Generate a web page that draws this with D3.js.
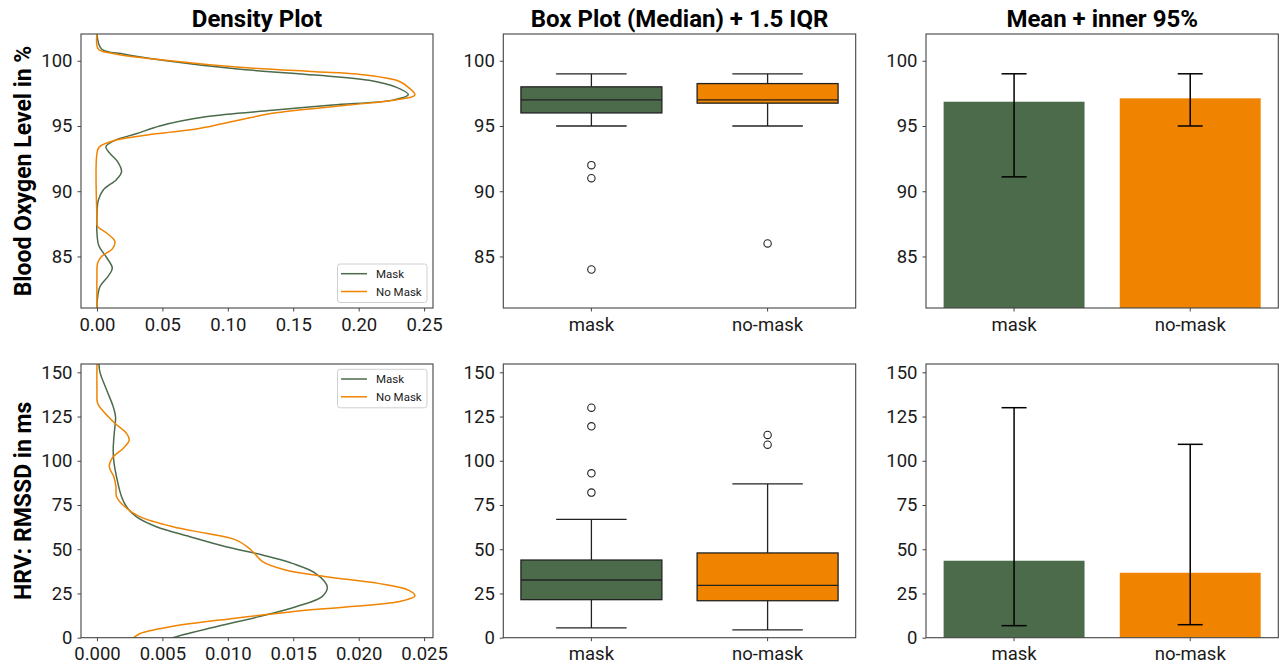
<!DOCTYPE html>
<html><head><meta charset="utf-8">
<script src="https://cdn.jsdelivr.net/npm/d3@7"></script>
<style>
body{margin:0;background:#fff;}
svg{display:block;font-family:Roboto,"DejaVu Sans",sans-serif;}
</style></head>
<body><svg id="c" width="1282" height="667"></svg>
<script>
// ---------- data ----------
const groups = ["mask", "no-mask"];
const seriesNames = ["Mask", "No Mask"];
const colors = ["#4b6b4b", "#f08300"];
const titles = ["Density Plot", "Box Plot (Median) + 1.5 IQR", "Mean + inner 95%"];
const rowLabels = ["Blood Oxygen Level in %", "HRV: RMSSD in ms"];

const o2Ticks = [85, 90, 95, 100];
const o2Domain = [81.05, 102.05];
const hrvTicks = [0, 25, 50, 75, 100, 125, 150];
const hrvDomain = [0, 154.7];
const o2DensTicks = [0, 0.05, 0.10, 0.15, 0.20, 0.25];
const o2DensDomain = [-0.0122, 0.2568];
const hrvDensTicks = [0, 0.005, 0.010, 0.015, 0.020, 0.025];
const hrvDensDomain = [-0.00122, 0.02568];

// density curves: [value, density]
const o2DensMask = [[102.05,0],[100.9,0.0035],[100.5,0.021],[100.0,0.053],[99.4,0.104],[98.9,0.167],[98.5,0.208],[97.96,0.229],[97.4,0.238],[97.0,0.227],[96.6,0.18],[96.2,0.134],[95.7,0.083],[95.0,0.048],[94.4,0.030],[93.9,0.0137],[93.4,0.0068],[92.9,0.0099],[92.3,0.0155],[91.5,0.0188],[90.9,0.015],[90.1,0.0048],[89.3,0.001],[88.1,0],[86.8,0],[85.8,0.0015],[85.0,0.0068],[84.1,0.0117],[83.5,0.0086],[82.7,0.0023],[81.7,0.0003],[81.05,0]];
const o2DensNoMask = [[102.05,0],[100.9,0.001],[100.56,0.012],[100.0,0.056],[99.5,0.109],[99.16,0.167],[98.98,0.199],[98.47,0.23],[97.96,0.238],[97.37,0.243],[96.99,0.228],[96.6,0.192],[95.97,0.134],[95.46,0.109],[94.8,0.078],[94.4,0.045],[93.9,0.0137],[93.4,0.0018],[92.9,0],[88.0,0],[87.3,0.0005],[86.8,0.0074],[86.15,0.0137],[85.6,0.0119],[85.0,0.0035],[84.5,0.0005],[83.5,0],[81.05,0]];
const hrvDensMask = [[154.7,0.00015],[150,0.00023],[140,0.00074],[130.6,0.00124],[124.9,0.00142],[115.5,0.00132],[106.2,0.00124],[99.5,0.00129],[89.1,0.00155],[79.7,0.00188],[74.0,0.00226],[68.4,0.0030],[62.7,0.00454],[57.1,0.0071],[51.4,0.00986],[46.7,0.01265],[42.0,0.01493],[36.4,0.0167],[28.8,0.0176],[23.2,0.0172],[17.5,0.0152],[11.9,0.0124],[6.2,0.0091],[0,0.0058],[-2,0.0052]];
const hrvDensNoMask = [[154.7,0],[140,0],[132.5,0.00005],[127.8,0.0005],[121.2,0.00137],[115.5,0.00226],[111.7,0.00246],[107.0,0.002],[102.3,0.00124],[96.7,0.00094],[91.0,0.00129],[85.4,0.00145],[79.7,0.0015],[74.0,0.00213],[68.4,0.00327],[62.7,0.0058],[59.0,0.00834],[55.3,0.0106],[50.5,0.01164],[46.7,0.01215],[43.0,0.01265],[38.3,0.0144],[34.5,0.0175],[30.7,0.0215],[26.9,0.0238],[23.6,0.0243],[20.3,0.023],[17.5,0.0192],[14.7,0.0149],[10.9,0.0104],[6.2,0.0056],[2.4,0.0033],[0,0.0028],[-2,0.0024]];

// box stats: [whiskerLow, q1, median, q3, whiskerHigh]
const o2Box = [[95, 96, 97, 98, 99], [95, 96.75, 97, 98.25, 99]];
const o2Outliers = [[92, 91, 84], [86]];
const hrvBox = [[5.5, 21.5, 32.6, 43.9, 66.9], [4.4, 20.9, 29.6, 47.9, 86.9]];
const hrvOutliers = [[130, 119.5, 92.9, 82.0], [114.6, 109.1]];

// means and inner 95% ranges
const o2Mean = [96.86, 97.12];
const o2Range = [[91.1, 99.0], [95.0, 99.0]];
const hrvMean = [43.5, 36.7];
const hrvRange = [[6.8, 130.0], [7.35, 109.3]];

// ---------- layout ----------
const svg = d3.select("#c");
const colX = [[81, 433], [503.3, 855.7], [926, 1278.3]];
const rowY = [[34, 308], [364, 637.7]];
const rows = [
  {domain:o2Domain, ticks:o2Ticks, dens:[o2DensMask,o2DensNoMask], densDomain:o2DensDomain, densTicks:o2DensTicks, densFmt:d3.format(".2f"), box:o2Box, out:o2Outliers, mean:o2Mean, range:o2Range, legendTop:true},
  {domain:hrvDomain, ticks:hrvTicks, dens:[hrvDensMask,hrvDensNoMask], densDomain:hrvDensDomain, densTicks:hrvDensTicks, densFmt:d3.format(".3f"), box:hrvBox, out:hrvOutliers, mean:hrvMean, range:hrvRange, legendTop:false}
];
const spineColor = "#444";
const textColor = "#1a1a1a";
const tickFont = 18.5;

function styleAxis(g){
  g.select(".domain").remove();
  g.selectAll(".tick line").attr("stroke", spineColor).attr("stroke-width", 1);
  g.selectAll(".tick text").attr("font-size", tickFont).attr("fill", textColor).attr("font-family","Roboto");
}
function frame(x0,x1,y0,y1){
  svg.append("rect").attr("x",x0).attr("y",y0).attr("width",x1-x0).attr("height",y1-y0)
    .attr("fill","none").attr("stroke",spineColor).attr("stroke-width",1.1);
}

let clipId = 0;
rows.forEach((r, ri) => {
  const [y0, y1] = rowY[ri];
  const y = d3.scaleLinear().domain(r.domain).range([y1, y0]);

  // ---- density ----
  {
    const [x0, x1] = colX[0];
    const x = d3.scaleLinear().domain(r.densDomain).range([x0, x1]);
    const id = "clip" + (clipId++);
    svg.append("clipPath").attr("id", id).append("rect").attr("x",x0).attr("y",y0).attr("width",x1-x0).attr("height",y1-y0);
    const g = svg.append("g").attr("clip-path", `url(#${id})`);
    const line = d3.line().x(d => x(d[1])).y(d => y(d[0])).curve(d3.curveCatmullRom.alpha(0.5));
    r.dens.forEach((s, si) => {
      g.append("path").attr("d", line(s)).attr("fill","none").attr("stroke", colors[si]).attr("stroke-width", 1.5);
    });
    const ay = svg.append("g").attr("transform",`translate(${x0},0)`).call(d3.axisLeft(y).tickValues(r.ticks).tickSize(3.5).tickPadding(5));
    styleAxis(ay);
    const ax = svg.append("g").attr("transform",`translate(0,${y1})`).call(d3.axisBottom(x).tickValues(r.densTicks).tickFormat(r.densFmt).tickSize(3.5).tickPadding(6));
    styleAxis(ax);
    frame(x0,x1,y0,y1);
    // legend
    const lx = 337.5, lw = 89.5, lh = 38.5;
    const ly = r.legendTop ? y1 - 44 : y0 + 5.3;
    const lg = svg.append("g");
    lg.append("rect").attr("x",lx).attr("y",ly).attr("width",lw).attr("height",lh).attr("rx",2.5)
      .attr("fill","#fff").attr("fill-opacity",0.8).attr("stroke","#d0d0d0").attr("stroke-width",1);
    seriesNames.forEach((n, i) => {
      const yy = ly + 9.7 + i*17.8;
      lg.append("line").attr("x1",lx+3.5).attr("x2",lx+29.5).attr("y1",yy).attr("y2",yy).attr("stroke",colors[i]).attr("stroke-width",1.5);
      lg.append("text").attr("x",lx+38.5).attr("y",yy).attr("dy","0.35em").attr("font-size",11.5).attr("fill",textColor).text(n);
    });
    // row label
    svg.append("text").attr("transform",`translate(${22.5},${(y0+y1)/2}) rotate(-90)`)
      .attr("text-anchor","middle").attr("dy","0.35em").attr("font-size",23).attr("font-weight","bold").attr("fill","#000").text(rowLabels[ri]);
  }

  // ---- box plot ----
  {
    const [x0, x1] = colX[1];
    const x = d3.scaleBand().domain(groups).range([x0, x1]).paddingInner(0).paddingOuter(0);
    const bw = x.bandwidth()*0.8;
    const g = svg.append("g");
    groups.forEach((gname, gi) => {
      const cx = x(gname) + x.bandwidth()/2;
      const [wl, q1, med, q3, wh] = r.box[gi];
      const lc = "#222";
      g.append("line").attr("x1",cx).attr("x2",cx).attr("y1",y(wl)).attr("y2",y(q1)).attr("stroke",lc).attr("stroke-width",1.3);
      g.append("line").attr("x1",cx).attr("x2",cx).attr("y1",y(q3)).attr("y2",y(wh)).attr("stroke",lc).attr("stroke-width",1.3);
      g.append("line").attr("x1",cx-bw/4).attr("x2",cx+bw/4).attr("y1",y(wl)).attr("y2",y(wl)).attr("stroke",lc).attr("stroke-width",1.3);
      g.append("line").attr("x1",cx-bw/4).attr("x2",cx+bw/4).attr("y1",y(wh)).attr("y2",y(wh)).attr("stroke",lc).attr("stroke-width",1.3);
      g.append("rect").attr("x",cx-bw/2).attr("y",y(q3)).attr("width",bw).attr("height",y(q1)-y(q3))
        .attr("fill",colors[gi]).attr("stroke",lc).attr("stroke-width",1.3);
      g.append("line").attr("x1",cx-bw/2).attr("x2",cx+bw/2).attr("y1",y(med)).attr("y2",y(med)).attr("stroke",lc).attr("stroke-width",1.3);
      r.out[gi].forEach(v => {
        g.append("circle").attr("cx",cx).attr("cy",y(v)).attr("r",3.7).attr("fill","none").attr("stroke","#222").attr("stroke-width",1.1);
      });
    });
    const ay = svg.append("g").attr("transform",`translate(${x0},0)`).call(d3.axisLeft(y).tickValues(r.ticks).tickSize(3.5).tickPadding(5));
    styleAxis(ay);
    const ax = svg.append("g").attr("transform",`translate(0,${y1})`).call(d3.axisBottom(x).tickSize(3.5).tickPadding(6));
    styleAxis(ax);
    frame(x0,x1,y0,y1);
  }

  // ---- bar plot ----
  {
    const [x0, x1] = colX[2];
    const x = d3.scaleBand().domain(groups).range([x0, x1]).paddingInner(0).paddingOuter(0);
    const bw = x.bandwidth()*0.8;
    const g = svg.append("g");
    groups.forEach((gname, gi) => {
      const cx = x(gname) + x.bandwidth()/2;
      g.append("rect").attr("x",cx-bw/2).attr("y",y(r.mean[gi])).attr("width",bw).attr("height",y1-y(r.mean[gi]))
        .attr("fill",colors[gi]);
      const [lo, hi] = r.range[gi];
      g.append("line").attr("x1",cx).attr("x2",cx).attr("y1",y(lo)).attr("y2",y(hi)).attr("stroke","#000").attr("stroke-width",1.5);
      [lo, hi].forEach(v => g.append("line").attr("x1",cx-12.5).attr("x2",cx+12.5).attr("y1",y(v)).attr("y2",y(v)).attr("stroke","#000").attr("stroke-width",1.5));
    });
    const ay = svg.append("g").attr("transform",`translate(${x0},0)`).call(d3.axisLeft(y).tickValues(r.ticks).tickSize(3.5).tickPadding(5));
    styleAxis(ay);
    const ax = svg.append("g").attr("transform",`translate(0,${y1})`).call(d3.axisBottom(x).tickSize(3.5).tickPadding(6));
    styleAxis(ax);
    frame(x0,x1,y0,y1);
  }
});

// titles
titles.forEach((t, i) => {
  svg.append("text").attr("x",(colX[i][0]+colX[i][1])/2).attr("y",19).attr("dy","0.35em")
    .attr("text-anchor","middle").attr("font-size",24).attr("font-weight","bold").attr("fill","#000").text(t);
});
</script></body></html>
